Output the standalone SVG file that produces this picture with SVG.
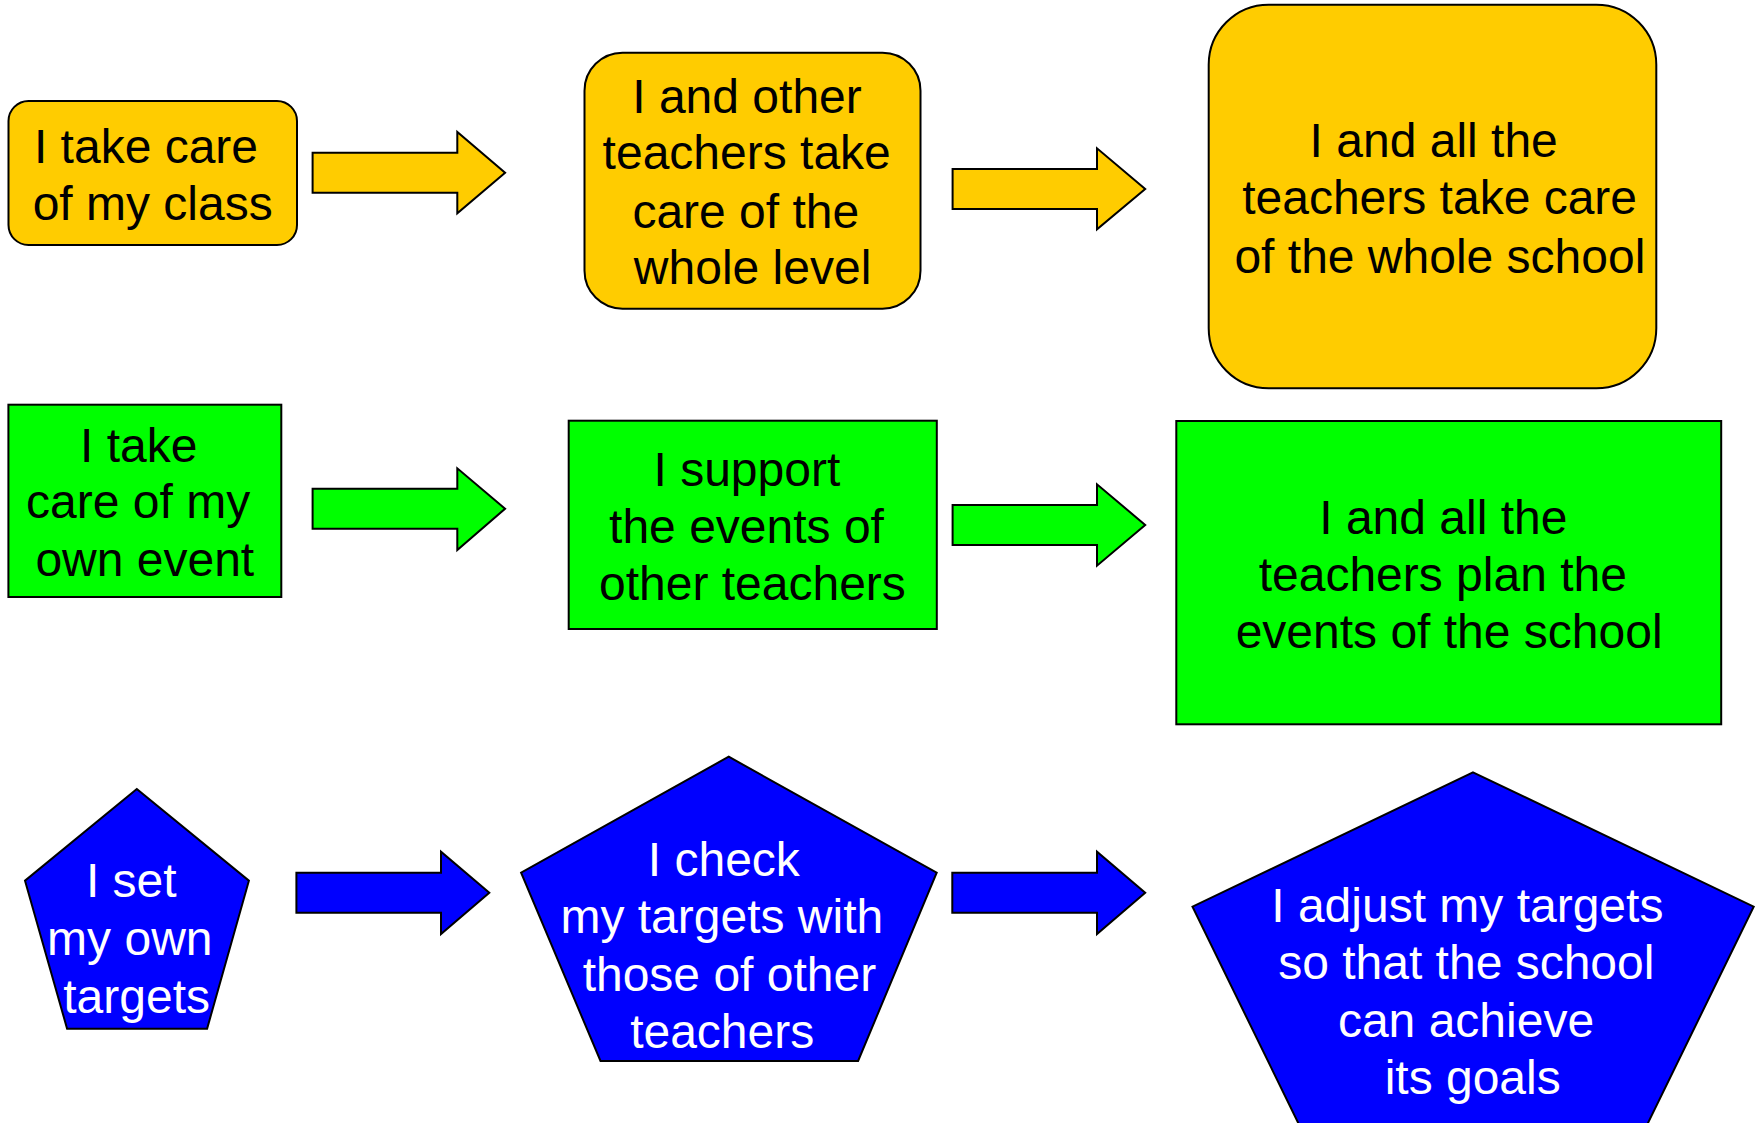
<svg xmlns="http://www.w3.org/2000/svg" width="1756" height="1123" viewBox="0 0 1756 1123">
  <style>
    .yellow { fill: #FFCC00; stroke: #000; stroke-width: 2; }
    .green { fill: #00FF00; stroke: #000; stroke-width: 2; }
    .blue { fill: #0000FF; stroke: #000; stroke-width: 2; }
    .label { font-family: "Liberation Sans", Arial, sans-serif; font-size: 48px; text-anchor: middle; fill: #000; }
    .label.light { fill: #fff; }
  </style>
  <rect width="1756" height="1123" fill="#fff"/>

  <!-- row 1: caring for class, level, school -->
  <g id="care-class">
    <rect class="yellow" x="8.5" y="101" width="288.5" height="144" rx="20"/>
    <text class="label"><tspan x="146" y="162.7">I take care</tspan><tspan x="152.7" y="220">of my class</tspan></text>
  </g>
  <g id="care-level">
    <rect class="yellow" x="584.5" y="52.7" width="336" height="256" rx="38"/>
    <text class="label"><tspan x="747" y="112.7">I and other</tspan><tspan x="746.7" y="169.3">teachers take</tspan><tspan x="745.8" y="227.7">care of the</tspan><tspan x="752.6" y="284.3">whole level</tspan></text>
  </g>
  <g id="care-school">
    <rect class="yellow" x="1208.7" y="4.7" width="447.6" height="383.6" rx="60"/>
    <text class="label"><tspan x="1433.7" y="156.7">I and all the</tspan><tspan x="1439.6" y="214.3">teachers take care</tspan><tspan x="1439.9" y="272.7">of the whole school</tspan></text>
  </g>

  <!-- row 2: events -->
  <g id="own-event">
    <rect class="green" x="8.4" y="404.7" width="272.9" height="192.3"/>
    <text class="label"><tspan x="138.7" y="461.7">I take</tspan><tspan x="138.1" y="518.3">care of my</tspan><tspan x="144.8" y="576">own event</tspan></text>
  </g>
  <g id="support-events">
    <rect class="green" x="568.7" y="420.7" width="368.1" height="208.3"/>
    <text class="label"><tspan x="746.9" y="486">I support</tspan><tspan x="746.5" y="543.3">the events of</tspan><tspan x="752.4" y="600">other teachers</tspan></text>
  </g>
  <g id="plan-events">
    <rect class="green" x="1176.3" y="421" width="544.9" height="303.3"/>
    <text class="label"><tspan x="1443.3" y="534.3">I and all the</tspan><tspan x="1442.8" y="591">teachers plan the</tspan><tspan x="1449.1" y="648.3">events of the school</tspan></text>
  </g>

  <!-- row 3: targets -->
  <g id="own-targets">
    <polygon class="blue" points="136.8,789 248.9,880.7 207.1,1028.7 67.1,1028.7 25,880.7"/>
    <text class="label light"><tspan x="131.3" y="897.3">I set</tspan><tspan x="129.8" y="955">my own</tspan><tspan x="136.6" y="1012.7">targets</tspan></text>
  </g>
  <g id="check-targets">
    <polygon class="blue" points="728.7,756.7 936.7,872.7 858.1,1061 600.5,1061 521.1,872.7"/>
    <text class="label light"><tspan x="723.8" y="876">I check</tspan><tspan x="721.8" y="933.3">my targets with</tspan><tspan x="729.4" y="990.7">those of other</tspan><tspan x="722.2" y="1048.3">teachers</tspan></text>
  </g>
  <g id="adjust-targets">
    <polygon class="blue" points="1473,772.3 1753.7,906.7 1646.5,1126 1299.7,1126 1192.5,906.7"/>
    <text class="label light"><tspan x="1467.3" y="921.7">I adjust my targets</tspan><tspan x="1466.3" y="979.3">so that the school</tspan><tspan x="1466" y="1036.7">can achieve</tspan><tspan x="1472.7" y="1094">its goals</tspan></text>
  </g>

  <!-- block arrows between stages -->
  <g id="connectors">
    <polygon class="yellow" points="312.6,152.7 457.3,152.7 457.3,132 505.1,172.7 457.3,213.3 457.3,192.7 312.6,192.7"/>
    <polygon class="yellow" points="952.6,169 1097,169 1097,148.3 1145.2,189 1097,229.3 1097,209 952.6,209"/>
    <polygon class="green" points="312.6,488.7 457.3,488.7 457.3,468.3 505.1,508.7 457.3,550 457.3,528.7 312.6,528.7"/>
    <polygon class="green" points="952.6,505 1097,505 1097,484.3 1145.2,525 1097,565.7 1097,545 952.6,545"/>
    <polygon class="blue" points="296.4,872.7 441,872.7 441,851.7 489.3,892.7 441,934 441,912.7 296.4,912.7"/>
    <polygon class="blue" points="952.3,872.7 1097,872.7 1097,851.7 1145.2,892.7 1097,934 1097,912.7 952.3,912.7"/>
  </g>
</svg>
